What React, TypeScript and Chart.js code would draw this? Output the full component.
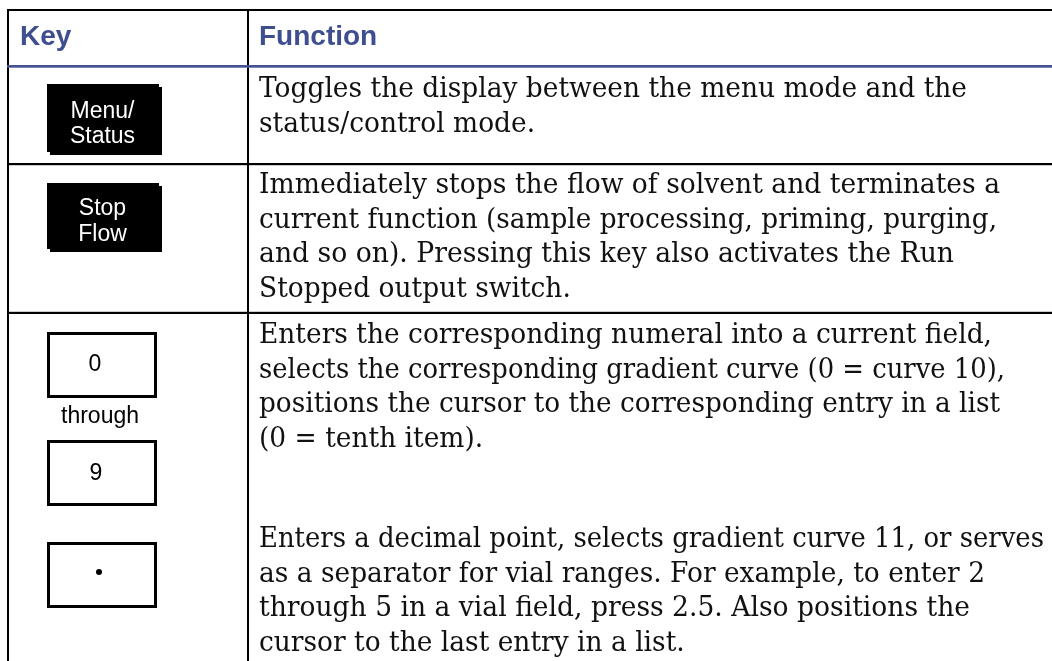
import React, { useEffect, useRef } from "react";
import { Chart, registerables } from "chart.js";

Chart.register(...registerables);

const headers = ["Key", "Function"];

const keyCaps = [
  { kind: "solid", lines: ["Menu/", "Status"] },
  { kind: "solid", lines: ["Stop", "Flow"] },
  { kind: "outline", lines: ["0"] },
  { kind: "outline", lines: ["9"] },
  { kind: "outline", lines: ["•"] },
];

const throughLabel = "through";

const row1Text = [
  "Toggles the display between the menu mode and the",
  "status/control mode.",
];
const row2Text = [
  "Immediately stops the flow of solvent and terminates a",
  "current function (sample processing, priming, purging,",
  "and so on). Pressing this key also activates the Run",
  "Stopped output switch.",
];
const row3Text = [
  "Enters the corresponding numeral into a current field,",
  "selects the corresponding gradient curve (0 = curve 10),",
  "positions the cursor to the corresponding entry in a list",
  "(0 = tenth item).",
];
const row4Text = [
  "Enters a decimal point, selects gradient curve 11, or serves",
  "as a separator for vial ranges. For example, to enter 2",
  "through 5 in a vial field, press 2.5. Also positions the",
  "cursor to the last entry in a list.",
];

const W = 1052;
const H = 661;
const TEXT_X = 259;

// layout: right edge of each wrapped (full) line, as measured in the page
const LINE_RIGHT: number[][] = [
  [967],
  [1000, 997, 954],
  [992, 1005, 1000],
  [1044, 985, 970],
];

const tablePlugin = {
  id: "keyTable",
  afterDraw(chart: any) {
    const ctx: CanvasRenderingContext2D = chart.ctx;
    ctx.save();
    ctx.fillStyle = "#ffffff";
    ctx.fillRect(0, 0, W, H);

    // grid lines
    ctx.fillStyle = "#000000";
    ctx.fillRect(7, 9, W - 7, 2); // top border
    ctx.fillRect(7, 9, 2, H - 9); // left border
    ctx.fillRect(247, 9, 2, H - 9); // column divider
    ctx.fillRect(7, 163, W - 7, 2.2); // row 1 bottom
    ctx.fillRect(7, 311.8, W - 7, 2.2); // row 2 bottom
    ctx.fillStyle = "#475390";
    ctx.fillRect(7, 65, W - 7, 2.7); // header underline

    // header text
    ctx.fillStyle = "#3e4e8e";
    ctx.font = "bold 28px 'Liberation Sans', Arial, sans-serif";
    ctx.textBaseline = "alphabetic";
    ctx.textAlign = "left";
    ctx.fillText(headers[0], 20, 45);
    ctx.fillText(headers[1], TEXT_X, 45);

    // body text
    ctx.fillStyle = "#111111";
    ctx.font = "28px 'DejaVu Serif', serif";
    const ref = ctx.measureText(row1Text[0]).width;
    const sx = (967 - TEXT_X) / ref;
    const drawLines = (lines: string[], y0: number, rights: number[]) => {
      lines.forEach((ln, i) => {
        let s = sx;
        if (i < rights.length) {
          s = (rights[i] - TEXT_X) / ctx.measureText(ln).width;
        }
        ctx.save();
        ctx.translate(TEXT_X, y0 + i * 34.7);
        ctx.scale(s, 1);
        ctx.fillText(ln, 0, 0);
        ctx.restore();
      });
    };
    drawLines(row1Text, 97, LINE_RIGHT[0]);
    drawLines(row2Text, 193, LINE_RIGHT[1]);
    drawLines(row3Text, 343, LINE_RIGHT[2]);
    drawLines(row4Text, 547, LINE_RIGHT[3]);

    // key caps
    ctx.font = "23px 'Liberation Sans', Arial, sans-serif";
    ctx.textAlign = "center";
    // Menu/Status
    ctx.fillStyle = "#000000";
    ctx.fillRect(47, 84, 112, 68);
    ctx.fillRect(50, 87, 112, 68);
    ctx.fillStyle = "#ffffff";
    ctx.fillText(keyCaps[0].lines[0], 102.5, 118);
    ctx.fillText(keyCaps[0].lines[1], 102.5, 143);
    // Stop Flow
    ctx.fillStyle = "#000000";
    ctx.fillRect(47, 183, 112, 66);
    ctx.fillRect(50, 186, 112, 66);
    ctx.fillStyle = "#ffffff";
    ctx.fillText(keyCaps[1].lines[0], 102.5, 215);
    ctx.fillText(keyCaps[1].lines[1], 102.5, 240.5);

    // outline keys
    ctx.strokeStyle = "#000000";
    ctx.lineWidth = 3;
    const outline = (y1: number, y2: number) => {
      ctx.strokeRect(48.5, y1 + 1.5, 107, y2 - y1 - 3);
    };
    outline(332, 398);
    outline(440, 506);
    outline(542, 608);
    ctx.fillStyle = "#000000";
    ctx.fillText(keyCaps[2].lines[0], 95, 371);
    ctx.fillText(throughLabel, 100, 423);
    ctx.fillText(keyCaps[3].lines[0], 96, 480);
    ctx.beginPath();
    ctx.arc(99, 572, 3, 0, Math.PI * 2);
    ctx.fill();

    ctx.restore();
  },
};

export default function App() {
  const ref = useRef<HTMLCanvasElement | null>(null);
  useEffect(() => {
    document.body.style.margin = "0";
    document.body.style.overflow = "hidden";
    if (!ref.current) return;
    const chart = new Chart(ref.current, {
      type: "bar",
      data: { labels: [], datasets: [] },
      options: {
        animation: false,
        responsive: false,
        events: [],
        plugins: { legend: { display: false }, tooltip: { enabled: false } },
        scales: { x: { display: false }, y: { display: false } },
      },
      plugins: [tablePlugin],
    });
    return () => chart.destroy();
  }, []);
  return (
    <div style={{ width: W, height: H, background: "#fff" }}>
      <canvas ref={ref} width={W} height={H} style={{ display: "block" }} />
    </div>
  );
}
